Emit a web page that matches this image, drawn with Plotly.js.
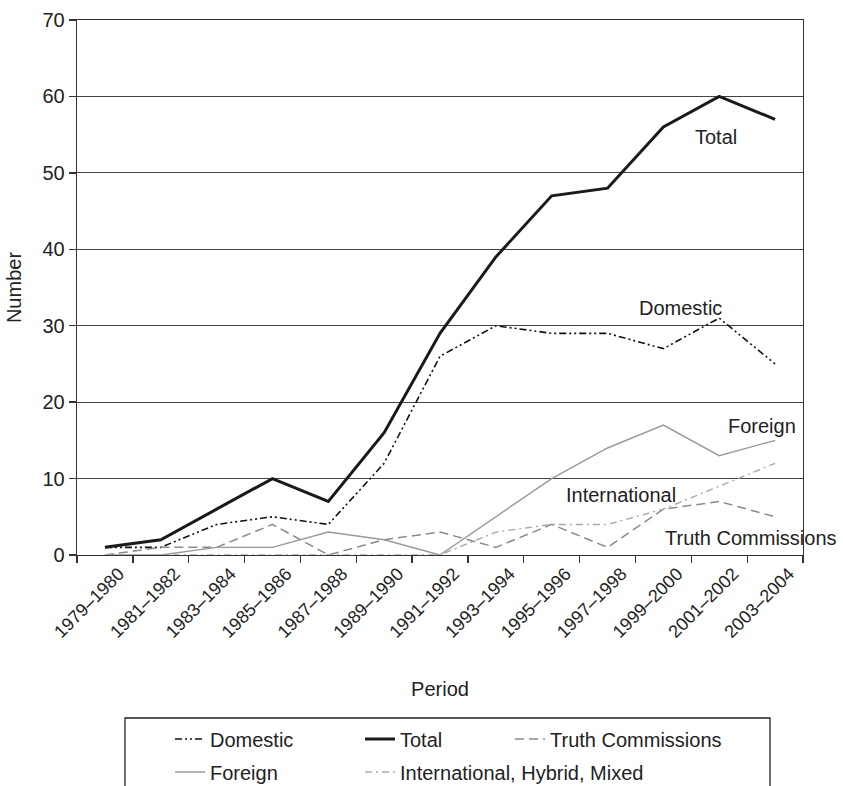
<!DOCTYPE html>
<html>
<head>
<meta charset="utf-8">
<script src="https://cdn.plot.ly/plotly-3.0.1.min.js"></script>
<style>html,body{margin:0;padding:0;background:#fff;}#chart{width:843px;height:786px;}</style>
</head>
<body>
<div id="chart"></div>
<script>
const periods = ["1979–1980","1981–1982","1983–1984","1985–1986","1987–1988","1989–1990","1991–1992","1993–1994","1995–1996","1997–1998","1999–2000","2001–2002","2003–2004"];
const total = [1,2,6,10,7,16,29,39,47,48,56,60,57];
const domestic = [1,1,4,5,4,12,26,30,29,29,27,31,25];
const foreign = [0,0,1,1,3,2,0,5,10,14,17,13,15];
const truthCommissions = [0,1,1,4,0,2,3,1,4,1,6,7,5];
const international = [0,0,0,0,0,0,0,3,4,4,6,9,12];
const yTicks = [0,10,20,30,40,50,60,70];

const FONT = "Liberation Sans, Arial, Helvetica, sans-serif";
const TXT = "#222";
const FS = 20;

const traces = [
  {x: periods, y: domestic, name: "Domestic", mode: "lines", legend: "legend",
   line: {color: "#111", width: 1.6, dash: "7px,3px,2px,3px,2px,3px"}},
  {x: periods, y: total, name: "Total", mode: "lines", legend: "legend2",
   line: {color: "#1a1a1a", width: 3}},
  {x: periods, y: truthCommissions, name: "Truth Commissions", mode: "lines", legend: "legend3",
   line: {color: "#8a8a8a", width: 1.5, dash: "9px,5px"}},
  {x: periods, y: foreign, name: "Foreign", mode: "lines", legend: "legend4",
   line: {color: "#999", width: 1.4}},
  {x: periods, y: international, name: "International, Hybrid, Mixed", mode: "lines", legend: "legend5",
   line: {color: "#aaa", width: 1.4, dash: "7px,4px,2px,4px"}}
];

const W = 726, H = 535;
function px(x){ return (x - 77) / W; }
function py(y){ return (555 - y) / H; }

function leg(x, y){
  return {x: px(x), y: py(y), xanchor: "left", yanchor: "middle", orientation: "h",
    bgcolor: "rgba(0,0,0,0)", borderwidth: 0, font: {family: FONT, size: FS, color: TXT}};
}

function lab(text, x, y){
  return {text: text, x: x, y: y, xref: "x", yref: "y", showarrow: false,
    font: {family: FONT, size: FS, color: TXT}, xanchor: "center", yanchor: "middle"};
}

const layout = {
  width: 843, height: 786,
  margin: {l: 77, r: 40, t: 20, b: 231, autoexpand: false},
  paper_bgcolor: "#fff", plot_bgcolor: "#fff",
  font: {family: FONT, size: FS, color: TXT},
  showlegend: true,
  xaxis: {
    type: "category", range: [-0.5, 12.5], tickangle: -45, automargin: false,
    ticks: "outside", ticklen: 7, tickcolor: "#333", tickwidth: 1.3, ticklabelshift: 14,
    tickson: "boundaries", showgrid: false, showline: true, linecolor: "#333", linewidth: 1.3,
    mirror: true, tickfont: {family: FONT, size: 18, color: TXT},
    title: {text: "Period", font: {family: FONT, size: FS, color: TXT}, standoff: 41},
    zeroline: false
  },
  yaxis: {
    range: [0, 70], tickvals: yTicks, ticks: "outside", ticklen: 7, tickcolor: "#333", tickwidth: 1.3,
    automargin: false,
    showgrid: true, gridcolor: "#444", gridwidth: 1.2, showline: true, linecolor: "#333", linewidth: 1.3,
    mirror: true, zeroline: false, tickfont: {family: FONT, size: FS, color: TXT},
    title: {text: "Number", font: {family: FONT, size: FS, color: TXT}, standoff: 15}
  },
  legend: leg(170, 739),
  legend2: leg(360, 739),
  legend3: leg(510, 739),
  legend4: leg(170, 772),
  legend5: leg(360, 772),
  shapes: [{type: "rect", xref: "paper", yref: "paper", x0: px(125), x1: px(770), y0: py(800), y1: py(718),
    line: {color: "#222", width: 1.3}, fillcolor: "rgba(0,0,0,0)", layer: "above"}],
  annotations: [
    lab("Total", 10.94, 54.7),
    lab("Domestic", 10.3, 32.3),
    lab("Foreign", 11.77, 16.9),
    lab("International", 9.24, 7.85),
    lab("Truth Commissions", 11.57, 2.2)
  ]
};

Plotly.newPlot("chart", traces, layout, {displayModeBar: false, staticPlot: true});
</script>
</body>
</html>
